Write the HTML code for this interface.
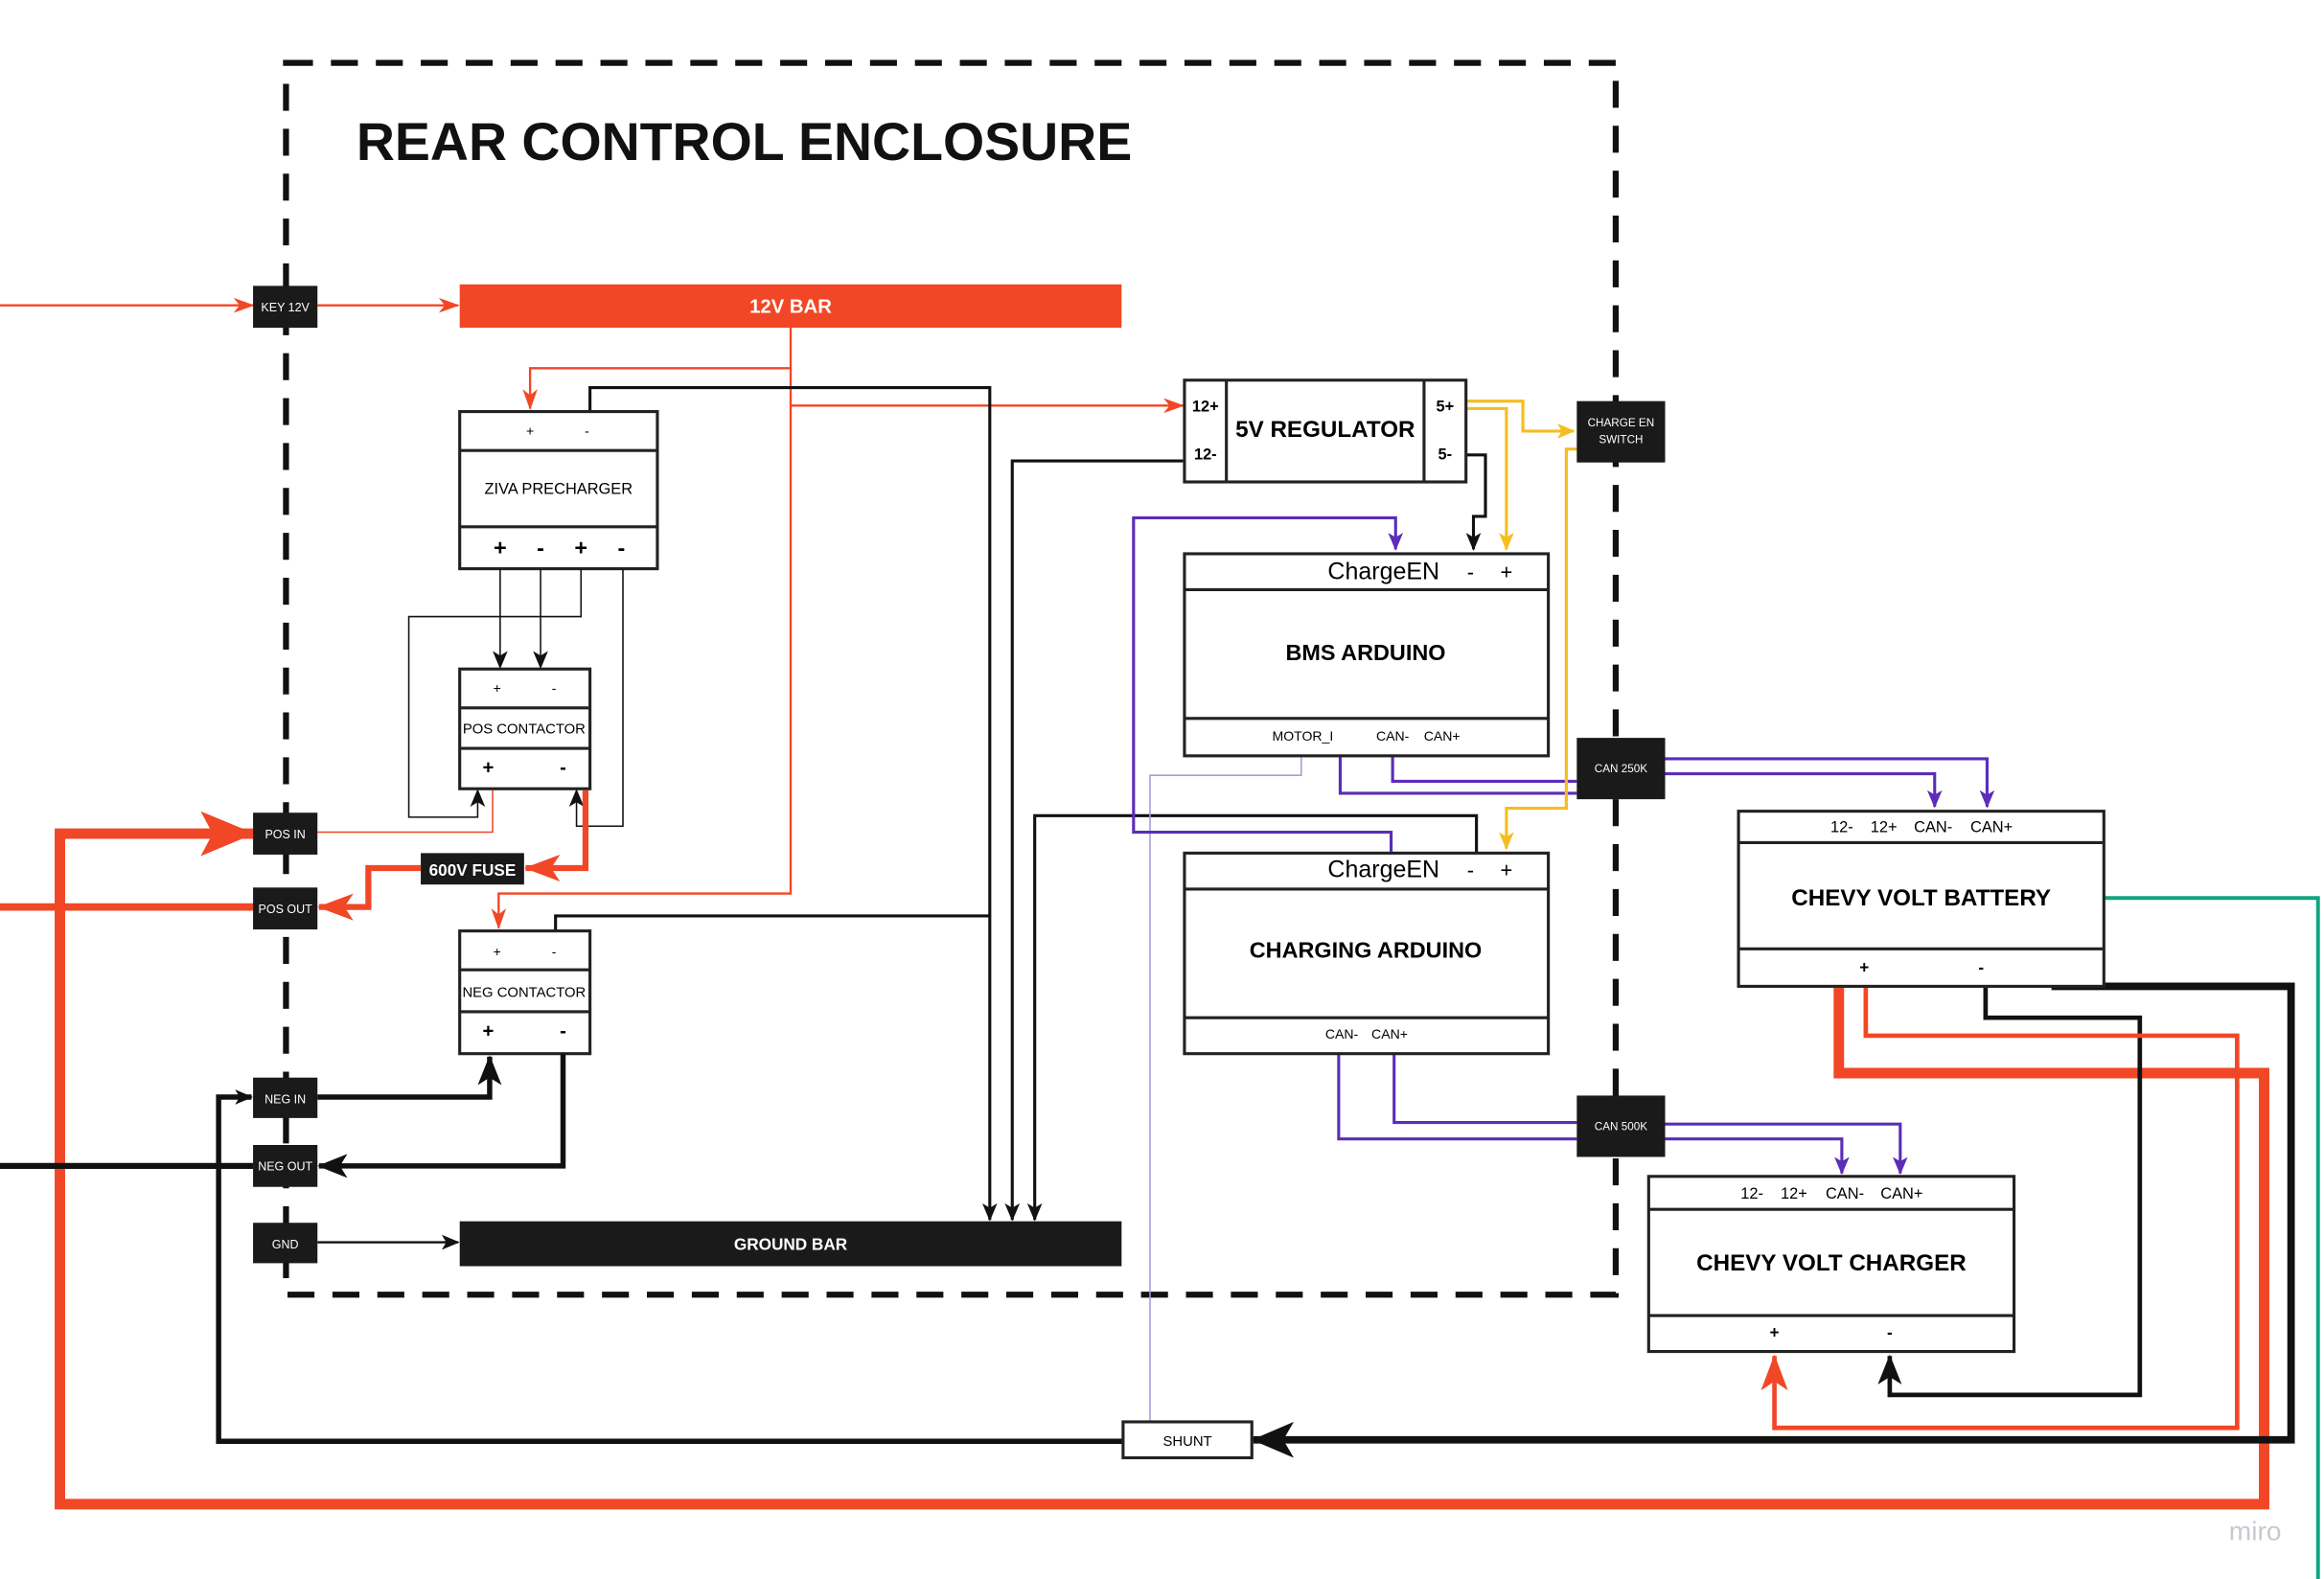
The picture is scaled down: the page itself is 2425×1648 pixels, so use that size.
<!DOCTYPE html>
<html><head><meta charset="utf-8"><style>
html,body{margin:0;padding:0;background:#fff}
svg{display:block}
text{font-family:"Liberation Sans",sans-serif}
.b{font-weight:bold}
</style></head><body>
<svg width="2425" height="1648" viewBox="0 0 1552 1055" preserveAspectRatio="none" xmlns="http://www.w3.org/2000/svg">
<defs>
<marker id="ar" markerUnits="userSpaceOnUse" markerWidth="14" markerHeight="10" refX="13" refY="5" orient="auto"><path d="M0,0 L14,5 L0,10 L4,5Z" fill="#F24726"/></marker>
<marker id="ak" markerUnits="userSpaceOnUse" markerWidth="12" markerHeight="10" refX="11" refY="5" orient="auto"><path d="M0,0 L12,5 L0,10 L3,5Z" fill="#111"/></marker>
<marker id="ap" markerUnits="userSpaceOnUse" markerWidth="12" markerHeight="10" refX="11" refY="5" orient="auto"><path d="M0,0 L12,5 L0,10 L3,5Z" fill="#5B2DB8"/></marker>
<marker id="ay" markerUnits="userSpaceOnUse" markerWidth="12" markerHeight="10" refX="11" refY="5" orient="auto"><path d="M0,0 L12,5 L0,10 L3,5Z" fill="#F5BD1F"/></marker>
<marker id="aR" markerUnits="userSpaceOnUse" markerWidth="36" markerHeight="30" refX="35" refY="15" orient="auto"><path d="M0,0 L36,15 L0,30 L8,15Z" fill="#F24726"/></marker>
<marker id="aRm" markerUnits="userSpaceOnUse" markerWidth="24" markerHeight="18" refX="23" refY="9" orient="auto"><path d="M0,0 L24,9 L0,18 L6,9Z" fill="#F24726"/></marker>
<marker id="aK" markerUnits="userSpaceOnUse" markerWidth="28" markerHeight="24" refX="27" refY="12" orient="auto"><path d="M0,0 L28,12 L0,24 L7,12Z" fill="#111"/></marker>
<marker id="aKm" markerUnits="userSpaceOnUse" markerWidth="20" markerHeight="16" refX="19" refY="8" orient="auto"><path d="M0,0 L20,8 L0,16 L5,8Z" fill="#111"/></marker>
</defs>

<path d="M191,42 H1079 V865 H191 Z" fill="none" stroke="#111" stroke-width="4" stroke-dasharray="18 12"/>
<text x="238" y="107" class="b" font-size="35.5" fill="#111">REAR CONTROL ENCLOSURE</text>

<path d="M1405,600 H1548 V1066" fill="none" stroke="#12A37F" stroke-width="2.5"/>

<path d="M1228,660 V717 H1512 V1005 H40 V557 H169" fill="none" stroke="#F24726" stroke-width="7" marker-end="url(#aR)"/>
<path d="M0,606 H169" stroke="#F24726" stroke-width="5"/>
<path d="M0,779 H169" stroke="#111" stroke-width="4"/>

<path d="M0,204 H169" stroke="#F24726" stroke-width="1.5" marker-end="url(#ar)"/>
<path d="M212,204 H306" stroke="#F24726" stroke-width="1.5" marker-end="url(#ar)"/>
<rect x="307" y="190" width="442" height="29" fill="#F24726"/>
<text x="528" y="209" text-anchor="middle" class="b" font-size="13" fill="#fff">12V BAR</text>

<path d="M528,219 V246 H354 V273" fill="none" stroke="#F24726" stroke-width="1.5" marker-end="url(#ar)"/>
<path d="M528,246 V271 H790" fill="none" stroke="#F24726" stroke-width="1.5" marker-end="url(#ar)"/>
<path d="M528,271 V597 H333 V620" fill="none" stroke="#F24726" stroke-width="1.5" marker-end="url(#ar)"/>

<path d="M394,275 V259 H661 V815" fill="none" stroke="#111" stroke-width="2" marker-end="url(#ak)"/>
<path d="M371,622 V612 H661" fill="none" stroke="#111" stroke-width="2"/>
<path d="M790,308 H676 V815" fill="none" stroke="#111" stroke-width="2" marker-end="url(#ak)"/>
<path d="M986,570 V545 H691 V815" fill="none" stroke="#111" stroke-width="2" marker-end="url(#ak)"/>

<rect x="307" y="275" width="132" height="105" fill="#fff" stroke="#222" stroke-width="2"/>
<path d="M307,301 H439 M307,352 H439" stroke="#222" stroke-width="2"/>
<text x="354" y="291" font-size="9" text-anchor="middle">+</text><text x="392" y="291" font-size="9" text-anchor="middle">-</text>
<text x="373" y="330" font-size="10.5" text-anchor="middle">ZIVA PRECHARGER</text>
<g class="b" font-size="15" text-anchor="middle"><text x="334" y="371">+</text><text x="361" y="371">-</text><text x="388" y="371">+</text><text x="415" y="371">-</text></g>

<path d="M334,380 V446" stroke="#111" stroke-width="1" marker-end="url(#ak)"/>
<path d="M361,380 V446" stroke="#111" stroke-width="1" marker-end="url(#ak)"/>
<path d="M388,380 V412 H273 V546 H319 V528" fill="none" stroke="#111" stroke-width="1" marker-end="url(#ak)"/>
<path d="M416,380 V552 H385 V528" fill="none" stroke="#111" stroke-width="1" marker-end="url(#ak)"/>

<rect x="307" y="447" width="87" height="80" fill="#fff" stroke="#222" stroke-width="2"/>
<path d="M307,473 H394 M307,500 H394" stroke="#222" stroke-width="2"/>
<text x="332" y="463" font-size="9" text-anchor="middle">+</text><text x="370" y="463" font-size="9" text-anchor="middle">-</text>
<text x="350" y="490" font-size="9.5" text-anchor="middle">POS CONTACTOR</text>
<g class="b" font-size="13" text-anchor="middle"><text x="326" y="517">+</text><text x="376" y="517">-</text></g>

<path d="M212,556 H329 V528" fill="none" stroke="#F24726" stroke-width="1"/>
<path d="M391,528 V580 H351" fill="none" stroke="#F24726" stroke-width="4" marker-end="url(#aRm)"/>
<rect x="281" y="570" width="69" height="21" fill="#1a1a1a"/>
<text x="315.5" y="585" text-anchor="middle" class="b" font-size="11" fill="#fff">600V FUSE</text>
<path d="M281,580 H246 V606 H213" fill="none" stroke="#F24726" stroke-width="4" marker-end="url(#aRm)"/>

<rect x="307" y="622" width="87" height="82" fill="#fff" stroke="#222" stroke-width="2"/>
<path d="M307,648 H394 M307,676 H394" stroke="#222" stroke-width="2"/>
<text x="332" y="639" font-size="9" text-anchor="middle">+</text><text x="370" y="639" font-size="9" text-anchor="middle">-</text>
<text x="350" y="666" font-size="9.5" text-anchor="middle">NEG CONTACTOR</text>
<g class="b" font-size="13" text-anchor="middle"><text x="326" y="693">+</text><text x="376" y="693">-</text></g>

<path d="M212,733 H327 V706" fill="none" stroke="#111" stroke-width="3.5" marker-end="url(#aKm)"/>
<path d="M376,704 V779 H213" fill="none" stroke="#111" stroke-width="3.5" marker-end="url(#aKm)"/>
<path d="M750,963 H146 V733 H168" fill="none" stroke="#111" stroke-width="3.5" marker-end="url(#ak)"/>
<path d="M212,830 H306" stroke="#111" stroke-width="1.5" marker-end="url(#ak)"/>

<rect x="307" y="816" width="442" height="30" fill="#1a1a1a"/>
<text x="528" y="835" text-anchor="middle" class="b" font-size="11" fill="#fff">GROUND BAR</text>

<g font-size="8" fill="#fff" text-anchor="middle">
<rect x="169" y="191" width="43" height="28" fill="#1a1a1a"/><text x="190.5" y="208">KEY 12V</text>
<rect x="169" y="543" width="43" height="28" fill="#1a1a1a"/><text x="190.5" y="560">POS IN</text>
<rect x="169" y="593" width="43" height="28" fill="#1a1a1a"/><text x="190.5" y="610">POS OUT</text>
<rect x="169" y="720" width="43" height="27" fill="#1a1a1a"/><text x="190.5" y="737">NEG IN</text>
<rect x="169" y="765" width="43" height="28" fill="#1a1a1a"/><text x="190.5" y="782">NEG OUT</text>
<rect x="169" y="817" width="43" height="27" fill="#1a1a1a"/><text x="190.5" y="834">GND</text>
</g>

<path d="M869,505 V518 H768 V950" fill="none" stroke="#A99BD8" stroke-width="1"/>

<path d="M929,569 V556 H757 V346 H932 V367" fill="none" stroke="#5B2DB8" stroke-width="2" marker-end="url(#ap)"/>
<path d="M930,505 V522 H1053 M895,505 V530 H1053" fill="none" stroke="#5B2DB8" stroke-width="2"/>
<path d="M1112,507 H1327 V539" fill="none" stroke="#5B2DB8" stroke-width="2" marker-end="url(#ap)"/>
<path d="M1112,517 H1292 V539" fill="none" stroke="#5B2DB8" stroke-width="2" marker-end="url(#ap)"/>
<path d="M894,704 V761 H1053 M931,704 V750 H1053" fill="none" stroke="#5B2DB8" stroke-width="2"/>
<path d="M1112,751 H1269 V784" fill="none" stroke="#5B2DB8" stroke-width="2" marker-end="url(#ap)"/>
<path d="M1112,761 H1230 V784" fill="none" stroke="#5B2DB8" stroke-width="2" marker-end="url(#ap)"/>

<path d="M979,268 H1017 V288 H1051" fill="none" stroke="#F5BD1F" stroke-width="2" marker-end="url(#ay)"/>
<path d="M979,273 H1006 V367" fill="none" stroke="#F5BD1F" stroke-width="2" marker-end="url(#ay)"/>
<path d="M1053,300 H1046 V540 H1006 V567" fill="none" stroke="#F5BD1F" stroke-width="2" marker-end="url(#ay)"/>
<path d="M979,304 H992 V345 H984 V367" fill="none" stroke="#111" stroke-width="2" marker-end="url(#ak)"/>

<rect x="791" y="254" width="188" height="68" fill="#fff" stroke="#222" stroke-width="2"/>
<path d="M819,254 V322 M951,254 V322" stroke="#222" stroke-width="2"/>
<g class="b" font-size="10.5" text-anchor="middle"><text x="805" y="275">12+</text><text x="805" y="307">12-</text><text x="965" y="275">5+</text><text x="965" y="307">5-</text></g>
<text x="885" y="292" text-anchor="middle" class="b" font-size="15.5">5V REGULATOR</text>

<g font-size="7.5" fill="#fff" text-anchor="middle">
<rect x="1053" y="268" width="59" height="41" fill="#1a1a1a"/><text x="1082.5" y="285">CHARGE EN</text><text x="1082.5" y="296">SWITCH</text>
<rect x="1053" y="493" width="59" height="41" fill="#1a1a1a"/><text x="1082.5" y="516">CAN 250K</text>
<rect x="1053" y="732" width="59" height="41" fill="#1a1a1a"/><text x="1082.5" y="755">CAN 500K</text>
</g>

<rect x="791" y="370" width="243" height="135" fill="#fff" stroke="#222" stroke-width="2"/>
<path d="M791,394 H1034 M791,480 H1034" stroke="#222" stroke-width="2"/>
<text x="924" y="387" text-anchor="middle" font-size="16">ChargeEN</text>
<text x="982" y="387" text-anchor="middle" font-size="14">-</text><text x="1006" y="387" text-anchor="middle" font-size="14">+</text>
<text x="912" y="441" text-anchor="middle" class="b" font-size="15">BMS ARDUINO</text>
<g font-size="9" text-anchor="middle"><text x="870" y="495">MOTOR_I</text><text x="930" y="495">CAN-</text><text x="963" y="495">CAN+</text></g>

<rect x="791" y="570" width="243" height="134" fill="#fff" stroke="#222" stroke-width="2"/>
<path d="M791,594 H1034 M791,680 H1034" stroke="#222" stroke-width="2"/>
<text x="924" y="586" text-anchor="middle" font-size="16">ChargeEN</text>
<text x="982" y="586" text-anchor="middle" font-size="14">-</text><text x="1006" y="586" text-anchor="middle" font-size="14">+</text>
<text x="912" y="640" text-anchor="middle" class="b" font-size="15">CHARGING ARDUINO</text>
<g font-size="9" text-anchor="middle"><text x="896" y="694">CAN-</text><text x="928" y="694">CAN+</text></g>

<path d="M1326,659 V680 H1429 V932 H1262 V906" fill="none" stroke="#111" stroke-width="3" marker-end="url(#aKm)"/>
<path d="M1246,660 V692 H1494 V954 H1185 V906" fill="none" stroke="#F24726" stroke-width="3" marker-end="url(#aRm)"/>
<path d="M1370,659 H1530 V962 H837" fill="none" stroke="#111" stroke-width="5" marker-end="url(#aK)"/>

<rect x="1161" y="542" width="244" height="117" fill="#fff" stroke="#222" stroke-width="2"/>
<path d="M1161,563 H1405 M1161,634 H1405" stroke="#222" stroke-width="2"/>
<g font-size="10.5" text-anchor="middle"><text x="1230" y="556">12-</text><text x="1258" y="556">12+</text><text x="1291" y="556">CAN-</text><text x="1330" y="556">CAN+</text></g>
<text x="1283" y="605" text-anchor="middle" class="b" font-size="15.5">CHEVY VOLT BATTERY</text>
<g class="b" font-size="11" text-anchor="middle"><text x="1245" y="650">+</text><text x="1323" y="650">-</text></g>

<rect x="1101" y="786" width="244" height="117" fill="#fff" stroke="#222" stroke-width="2"/>
<path d="M1101,808 H1345 M1101,879 H1345" stroke="#222" stroke-width="2"/>
<g font-size="10.5" text-anchor="middle"><text x="1170" y="801">12-</text><text x="1198" y="801">12+</text><text x="1232" y="801">CAN-</text><text x="1270" y="801">CAN+</text></g>
<text x="1223" y="849" text-anchor="middle" class="b" font-size="15.5">CHEVY VOLT CHARGER</text>
<g class="b" font-size="11" text-anchor="middle"><text x="1185" y="894">+</text><text x="1262" y="894">-</text></g>

<rect x="750" y="950" width="86" height="24" fill="#fff" stroke="#222" stroke-width="2"/>
<text x="793" y="966" text-anchor="middle" font-size="9.5">SHUNT</text>

<text x="1506" y="1029" text-anchor="middle" font-size="18" fill="#c8c8d0">miro</text>
</svg>
</body></html>
